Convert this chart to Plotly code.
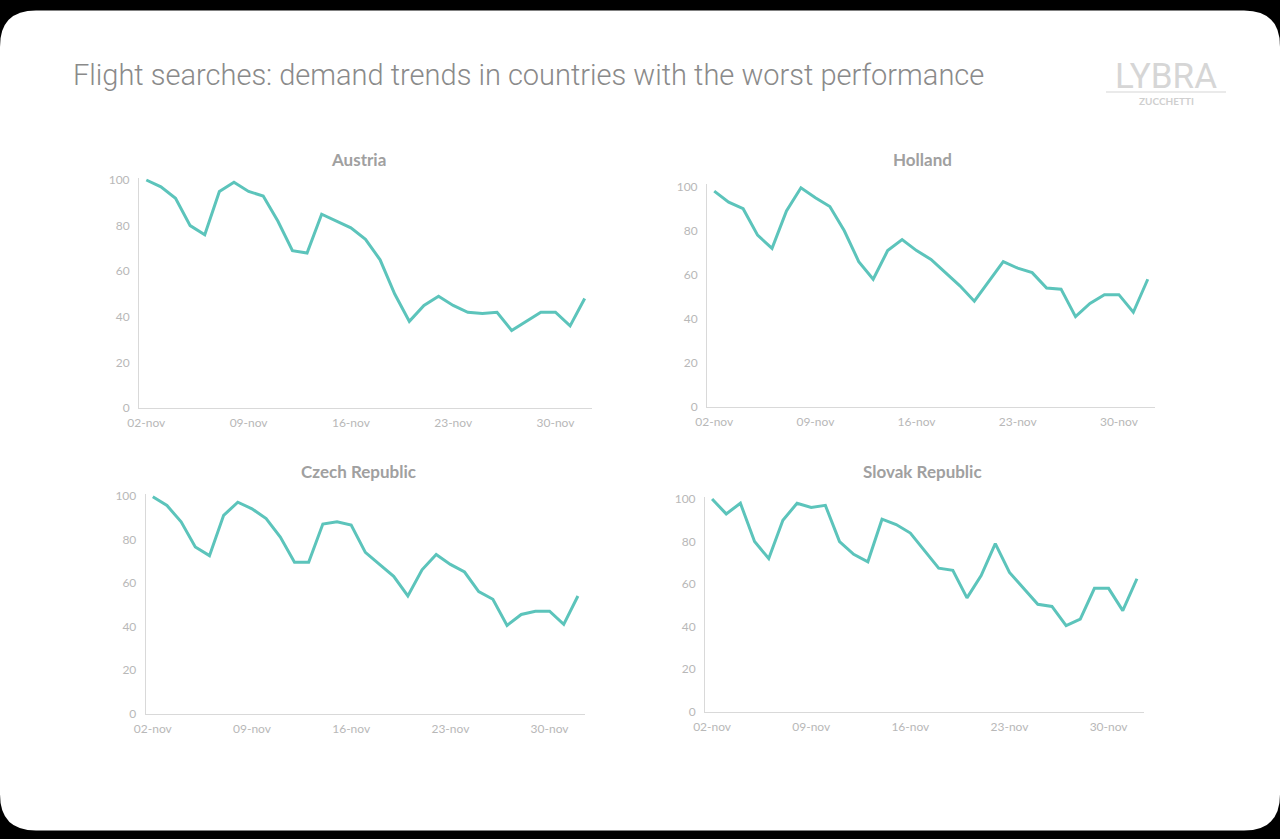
import plotly.graph_objects as go

W, H = 1280, 839

dates = ["02-nov", "03-nov", "04-nov", "05-nov", "06-nov", "07-nov", "08-nov",
         "09-nov", "10-nov", "11-nov", "12-nov", "13-nov", "14-nov", "15-nov",
         "16-nov", "17-nov", "18-nov", "19-nov", "20-nov", "21-nov", "22-nov",
         "23-nov", "24-nov", "25-nov", "26-nov", "27-nov", "28-nov", "29-nov",
         "30-nov", "01-dic", "02-dic"]

austria = [100, 97, 92, 80, 76, 95, 99, 95, 93, 82, 69, 68, 85, 82, 79, 74,
           65, 50, 38, 45, 49, 45, 42, 41.5, 42, 34, 38, 42, 42, 36, 48]
holland = [98, 93, 90, 78, 72, 89, 99.5, 95, 91, 80, 66, 58, 71, 76, 71, 67,
           61, 55, 48, 57, 66, 63, 61, 54, 53.5, 41, 47, 51, 51, 43, 58]
czech = [99.5, 95.5, 88, 76.5, 72.5, 91, 97, 94, 89.5, 81, 69.5, 69.5, 87, 88,
         86.5, 74, 68.5, 63, 54, 66, 73, 68.5, 65, 56, 52.5, 40.5, 45.5, 47,
         47, 41, 54]
slovak = [100, 93, 98, 80, 72, 90, 98, 96, 97, 80, 74, 70.5, 90.5, 88, 84, 76,
          67.5, 66.5, 53.5, 64, 79, 65.5, 58, 50.5, 49.5, 40.5, 43.5, 58, 58,
          47.5, 62.5]

titles = ["Austria", "Holland", "Czech Republic", "Slovak Republic"]
series = [austria, holland, czech, slovak]
ytick_vals = [0, 20, 40, 60, 80, 100]
xtick_labels = ["02-nov", "09-nov", "16-nov", "23-nov", "30-nov"]

LINE = "#5cc4bb"
AXIS = "#d9d9d9"
TICKTXT = "#b8b8b8"
TITLETXT = "#a0a0a0"

# pixel boxes: (x_left, x_right, y_px_at_0, y_px_at_100)
boxes = [(139, 592, 408, 180),
         (707, 1155, 407, 186.7),
         (145.7, 585, 713.7, 495.7),
         (705, 1144, 711.7, 499)]
title_pos = [(358, 160), (922, 160), (358, 471), (922, 471)]

fig = go.Figure()
YMAX = 101

for i, (name, vals, box) in enumerate(zip(titles, series, boxes)):
    xl, xr, y0p, y100p = box
    unit = (y0p - y100p) / 100.0
    ytop = y100p - (YMAX - 100) * unit
    xa = "x" if i == 0 else f"x{i+1}"
    ya = "y" if i == 0 else f"y{i+1}"
    xkey = "xaxis" if i == 0 else f"xaxis{i+1}"
    ykey = "yaxis" if i == 0 else f"yaxis{i+1}"
    fig.add_trace(go.Scatter(x=dates, y=vals, mode="lines", xaxis=xa, yaxis=ya,
                             line=dict(color=LINE, width=3), showlegend=False,
                             hoverinfo="x+y"))
    fig.layout[xkey] = dict(
        domain=[xl / W, xr / W], anchor=ya, type="category",
        range=[-0.5, len(dates) - 0.5], tickmode="array",
        tickvals=xtick_labels, ticktext=xtick_labels, tickangle=0,
        ticks="", showgrid=False, automargin=False,
        showline=True, linecolor=AXIS, linewidth=1, zeroline=False,
        tickfont=dict(family="Lato", size=12, color=TICKTXT), ticklabelstandoff=4,
        fixedrange=True)
    fig.layout[ykey] = dict(
        domain=[1 - y0p / H, 1 - ytop / H], anchor=xa, range=[0, YMAX],
        tickvals=ytick_vals, showgrid=False, showline=True, linecolor=AXIS,
        linewidth=1, zeroline=False, ticks="", automargin=False,
        tickfont=dict(family="Lato", size=12, color=TICKTXT), ticklabelstandoff=6,
        fixedrange=True)
    tx, ty = title_pos[i]
    fig.add_annotation(text=f"<b>{name}</b>", x=tx / W, y=1 - ty / H,
                       xref="paper", yref="paper", showarrow=False,
                       xanchor="center", yanchor="middle",
                       font=dict(family="Lato", size=17, color=TITLETXT))

# white rounded card on black background
r = 36
top, bot, left, right = 10.5, 830.5, 0, 1280


def P(x, y):
    return f"{x / W:.5f},{1 - y / H:.5f}"


path = (f"M {P(left + r, top)} L {P(right - r, top)} "
        f"Q {P(right, top)} {P(right, top + r)} L {P(right, bot - r)} "
        f"Q {P(right, bot)} {P(right - r, bot)} L {P(left + r, bot)} "
        f"Q {P(left, bot)} {P(left, bot - r)} L {P(left, top + r)} "
        f"Q {P(left, top)} {P(left + r, top)} Z")
fig.add_shape(type="path", path=path, xref="paper", yref="paper",
              fillcolor="white", line=dict(width=0), layer="below")

# main title
fig.add_annotation(text="Flight searches: demand trends in countries with the worst performance",
                   x=71 / W, y=1 - 75 / H, xref="paper", yref="paper",
                   showarrow=False, xanchor="left", yanchor="middle",
                   font=dict(family="Roboto", size=29, color="#8a8a8a", weight=300))

# logo
fig.add_annotation(text="LYBRA", x=1166 / W, y=1 - 76 / H, xref="paper", yref="paper",
                   showarrow=False, xanchor="center", yanchor="middle",
                   font=dict(family="Roboto", size=35, color="#d6d6d6", weight=400))
fig.add_shape(type="line", x0=1106 / W, x1=1226 / W, y0=1 - 92 / H, y1=1 - 92 / H,
              xref="paper", yref="paper", line=dict(color="#e3e3e3", width=1.5))
fig.add_annotation(text="<b>ZUCCHETTI</b>", x=1166 / W, y=1 - 101 / H, xref="paper",
                   yref="paper", showarrow=False, xanchor="center", yanchor="middle",
                   font=dict(family="Lato", size=10, color="#cfcfcf"))

fig.update_layout(width=W, height=H,
                  margin=dict(l=0, r=0, t=0, b=0, pad=0, autoexpand=False),
                  paper_bgcolor="black", plot_bgcolor="rgba(0,0,0,0)",
                  showlegend=False)

fig.write_html("out.html", config={"displayModeBar": False},
               post_script="document.body.style.margin='0';document.body.style.overflow='hidden';")
